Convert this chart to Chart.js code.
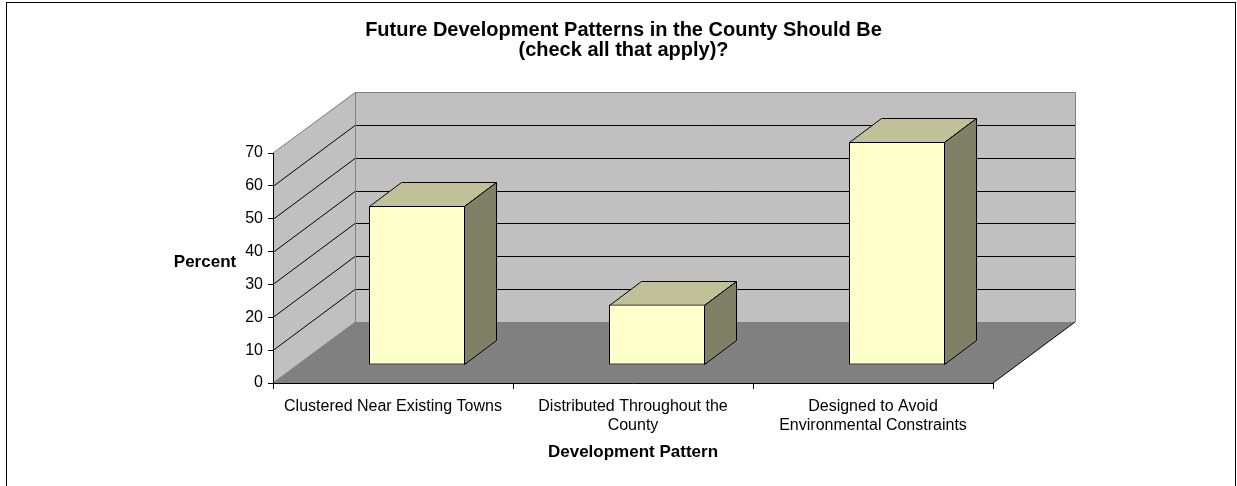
<!DOCTYPE html>
<html><head><meta charset="utf-8">
<script src="https://cdn.jsdelivr.net/npm/chart.js@4/dist/chart.umd.min.js"></script>
<style>html,body{margin:0;padding:0;background:#fff}canvas{display:block}</style>
</head><body>
<canvas id="c" width="1237" height="486"></canvas>
<script>
// ---- data ----
const categories = [
  ['Clustered Near Existing Towns'],
  ['Distributed Throughout the', 'County'],
  ['Designed to Avoid', 'Environmental Constraints']
];
const percentValues = [48.4, 18.4, 67.9];
const yTickValues = [0, 10, 20, 30, 40, 50, 60, 70];
const titleLines = ['Future Development Patterns in the County Should Be', '(check all that apply)?'];
const xAxisTitle = 'Development Pattern';
const yAxisTitle = 'Percent';

// ---- style ----
const FONT = "'Liberation Sans', Arial, sans-serif";
const DEPTH_X = 82, DEPTH_Y = 61;      // 3D depth of the plot box
const BAR_FRONT = 0.287, BAR_DEPTH = 0.395; // bar placement within depth
const WALL = '#c0c0c0', FLOOR = '#808080';
const BAR_FRONT_COL = '#ffffcc', BAR_TOP_COL = '#c0c099', BAR_SIDE_COL = '#808066';

Chart.defaults.font.family = FONT;
Chart.defaults.color = '#000';

function poly(ctx, pts, fill, stroke) {
  ctx.beginPath();
  ctx.moveTo(pts[0][0], pts[0][1]);
  for (let i = 1; i < pts.length; i++) ctx.lineTo(pts[i][0], pts[i][1]);
  ctx.closePath();
  if (fill) { ctx.fillStyle = fill; ctx.fill(); }
  if (stroke) { ctx.strokeStyle = stroke; ctx.lineWidth = 1; ctx.stroke(); }
}

const box3d = {
  id: 'box3d',
  beforeDraw(chart) {
    const ctx = chart.ctx;
    const {left: L, right: R, top: T, bottom: B} = chart.chartArea;
    const ys = chart.scales.y;
    const dx = DEPTH_X, dy = DEPTH_Y;
    ctx.save();
    ctx.fillStyle = '#fff';
    ctx.fillRect(0, 0, chart.width, chart.height);
    // back wall
    poly(ctx, [[L + dx, T - dy], [R + dx, T - dy], [R + dx, B - dy], [L + dx, B - dy]], WALL, null);
    // side wall
    poly(ctx, [[L, T], [L + dx, T - dy], [L + dx, B - dy], [L, B]], WALL, null);
    // floor
    poly(ctx, [[L, B], [R, B], [R + dx, B - dy], [L + dx, B - dy]], FLOOR, null);
    // gridlines
    ctx.lineWidth = 1;
    ctx.strokeStyle = '#000';
    yTickValues.forEach(v => {
      if (v <= ys.min || v >= ys.max) return;
      const y = Math.round(ys.getPixelForValue(v)) + 0.5;
      ctx.beginPath();
      ctx.moveTo(L, y);
      ctx.lineTo(L + dx, y - dy);
      ctx.lineTo(R + dx + 0.5, y - dy);
      ctx.stroke();
    });
    // outlines
    ctx.strokeStyle = '#808080';
    ctx.beginPath();
    ctx.moveTo(L, T); ctx.lineTo(L + dx + 0.5, T - dy + 0.5);
    ctx.lineTo(R + dx + 0.5, T - dy + 0.5); ctx.lineTo(R + dx + 0.5, B - dy);
    ctx.moveTo(L + dx + 0.5, T - dy); ctx.lineTo(L + dx + 0.5, B - dy);
    ctx.lineTo(L, B);
    ctx.stroke();
    ctx.strokeStyle = '#000';
    ctx.beginPath();
    ctx.moveTo(R, B); ctx.lineTo(R + dx, B - dy);
    ctx.stroke();
    ctx.restore();
  },
  beforeDatasetDraw(chart, args) {
    const ctx = chart.ctx;
    const ox = Math.round(BAR_FRONT * DEPTH_X), oy = Math.round(BAR_FRONT * DEPTH_Y);
    const bx = Math.round(BAR_DEPTH * DEPTH_X), by = Math.round(BAR_DEPTH * DEPTH_Y);
    ctx.save();
    args.meta.data.forEach(el => {
      const p = el.getProps(['x', 'y', 'base', 'width'], true);
      const x0 = Math.round(p.x - p.width / 2) + ox + 0.5;
      const x1 = Math.round(p.x + p.width / 2) + ox - 0.5;
      const yt = Math.round(p.y) - oy + 0.5;
      const yb = Math.round(p.base) - oy - 0.5;
      poly(ctx, [[x0, yt], [x1, yt], [x1 + bx, yt - by], [x0 + bx, yt - by]], BAR_TOP_COL, '#000');
      poly(ctx, [[x1, yt], [x1 + bx, yt - by], [x1 + bx, yb - by], [x1, yb]], BAR_SIDE_COL, '#000');
    });
    ctx.restore();
    ctx.save();
    ctx.translate(ox, -oy);
  },
  afterDatasetDraw(chart) {
    chart.ctx.restore();
  },
  afterDraw(chart) {
    const ctx = chart.ctx;
    ctx.save();
    ctx.font = 'bold 17px ' + FONT;
    ctx.fillStyle = '#000';
    ctx.textAlign = 'center';
    ctx.textBaseline = 'middle';
    ctx.fillText(yAxisTitle, 205, 262);
    ctx.strokeStyle = '#000';
    ctx.lineWidth = 1;
    ctx.strokeRect(6.5, 2.5, 1229, 500);
    ctx.restore();
  }
};

new Chart(document.getElementById('c'), {
  type: 'bar',
  plugins: [box3d],
  data: {
    labels: categories,
    datasets: [{
      label: yAxisTitle,
      data: percentValues,
      backgroundColor: BAR_FRONT_COL,
      borderColor: '#000',
      borderWidth: 1,
      borderSkipped: false,
      barPercentage: 0.4,
      categoryPercentage: 1.0,
      clip: false
    }]
  },
  options: {
    responsive: false,
    animation: false,
    devicePixelRatio: 1,
    layout: { padding: { left: 10, right: 0, top: 0, bottom: 0 } },
    plugins: {
      legend: { display: false },
      tooltip: { enabled: false },
      title: {
        display: true,
        text: titleLines,
        color: '#000',
        font: { size: 20, weight: 'bold', family: FONT, lineHeight: 1.0 },
        padding: { top: 20, bottom: 93 }
      }
    },
    scales: {
      x: {
        z: 1,
        grid: { display: true, drawOnChartArea: false, drawTicks: true, tickLength: 6, color: '#000', offset: true },
        border: { display: true, color: '#000' },
        ticks: { color: '#000', font: { size: 16 }, padding: 8, maxRotation: 0, autoSkip: false },
        title: { display: true, text: xAxisTitle, color: '#000', font: { size: 17, weight: 'bold' }, padding: { top: 4, bottom: 23 } },
        afterFit(s) { s.height = 103; }
      },
      y: {
        z: 1,
        min: 0, max: 70,
        afterBuildTicks(s) { s.ticks = yTickValues.map(v => ({ value: v })); },
        grid: { display: true, drawOnChartArea: false, drawTicks: true, tickLength: 5, color: '#000' },
        border: { display: true, color: '#000' },
        ticks: { color: '#000', font: { size: 16 }, padding: 5 },
        afterFit(s) { s.width = 263; }
      },
      yR: {
        type: 'linear', position: 'right', display: true,
        grid: { display: false }, border: { display: false }, ticks: { display: false },
        afterFit(s) { s.width = 244; }
      }
    }
  }
});
</script>
</body></html>
